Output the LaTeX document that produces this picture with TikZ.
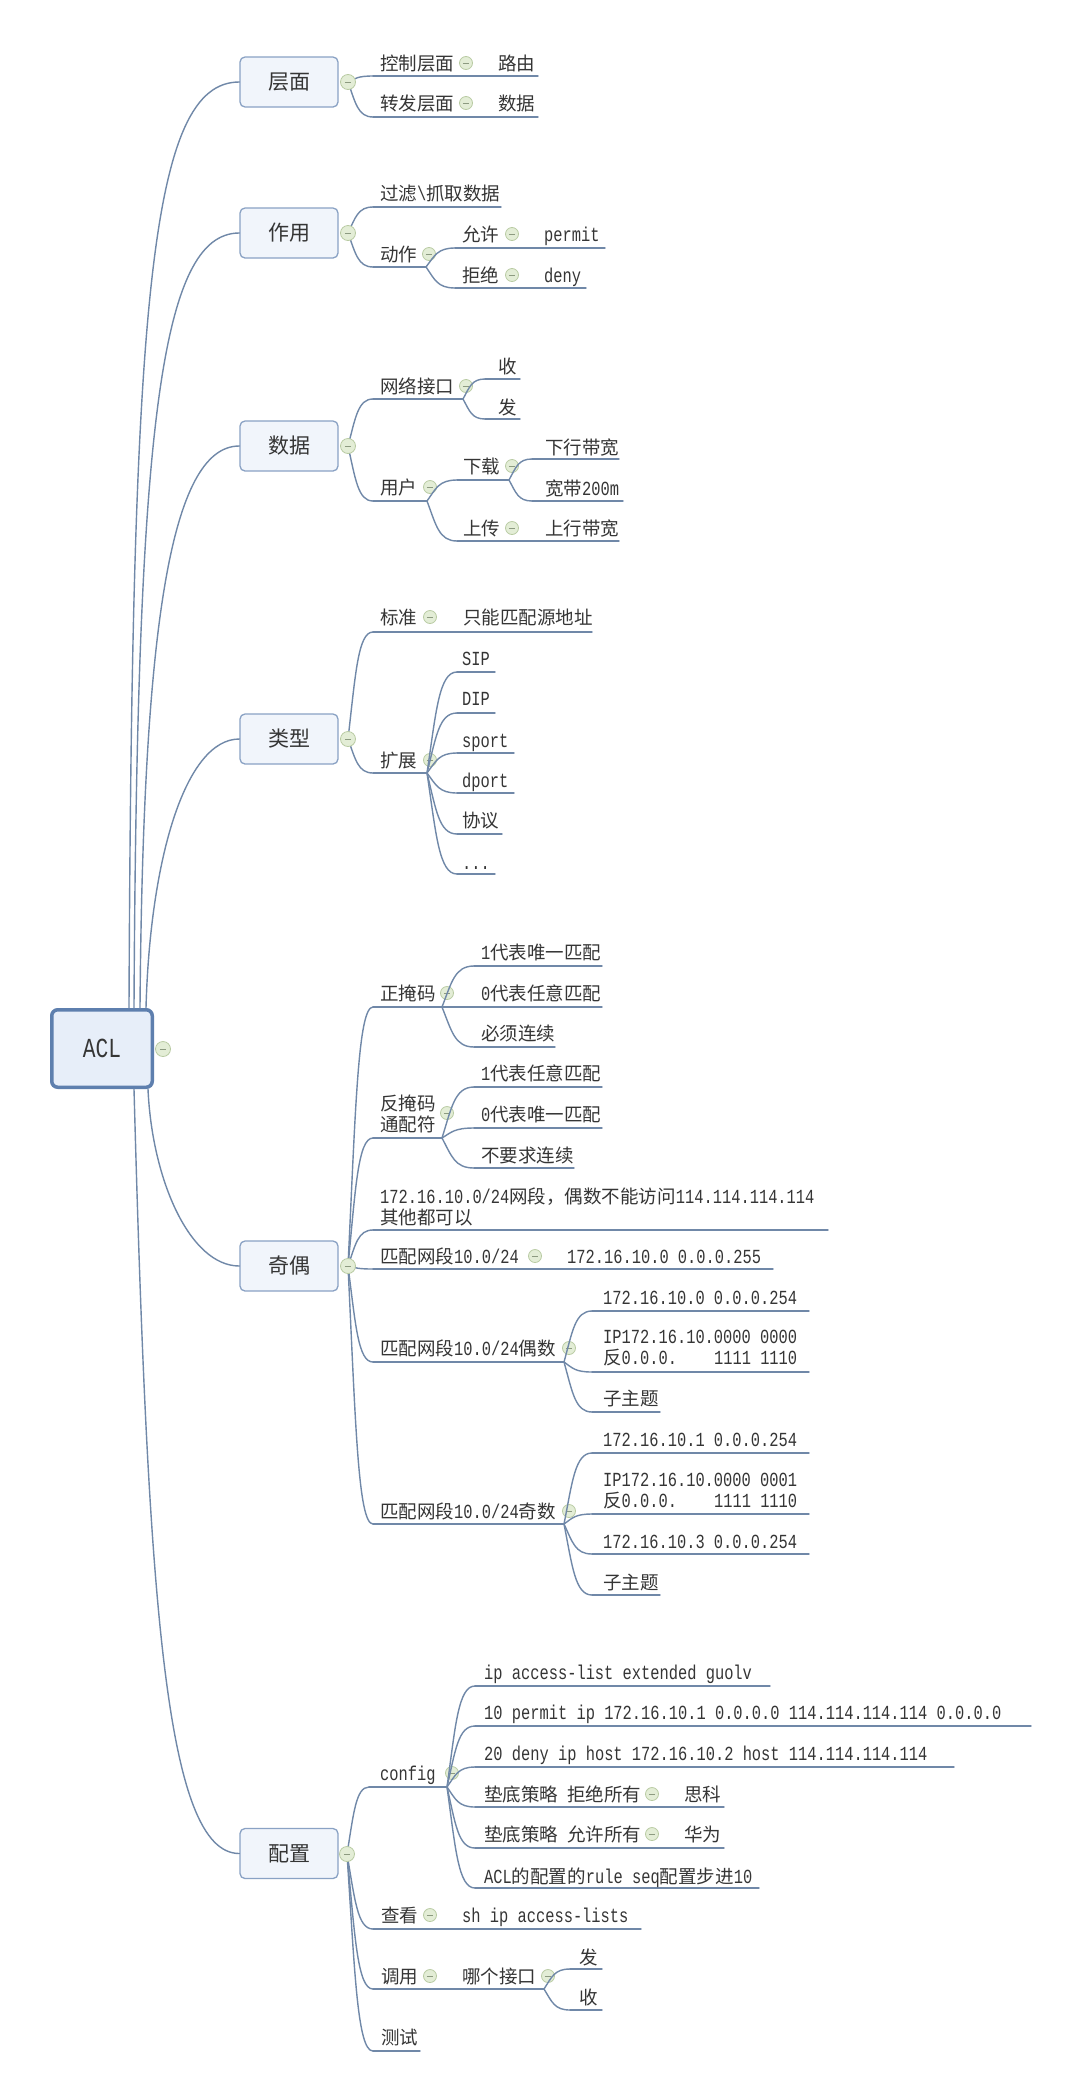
\documentclass[tikz,border=0pt]{standalone}
\usepackage{fontspec}
\setmainfont{Liberation Mono}[FakeStretch=0.77,Scale=1.08]
\newfontfamily\zh{Noto Sans CJK SC}
\usetikzlibrary{calc}
\definecolor{lnc}{HTML}{7088A8}
\definecolor{txc}{HTML}{353535}
\definecolor{bxb}{HTML}{8AA2C4}
\definecolor{bxf}{HTML}{F1F5FB}
\definecolor{aclb}{HTML}{5E7FAE}
\definecolor{aclf}{HTML}{E7EEF9}
\definecolor{tgf}{HTML}{E3EDD6}
\definecolor{tgb}{HTML}{B9CBA3}
\definecolor{tgd}{HTML}{8C9A80}
\newcommand\lf{\fontsize{18.5}{21}\selectfont\spaceskip=9.25pt\relax}
\newcommand\boxfont{\fontsize{21}{24}\selectfont}
\newcommand\aclfont{\fontsize{25.5}{28}\selectfont}
\tikzset{
 ln/.style={draw=lnc, line width=1.4pt, line cap=round},
 txt/.style={anchor=west, inner sep=0pt, text=txc, font=\lf, text height=15pt, text depth=1pt},
 tg/.style={circle, draw=tgb, fill=tgf, minimum size=13pt, inner sep=0pt, line width=0.8pt,
   path picture={\draw[tgd, line width=0.9pt] ([xshift=-3.2pt]path picture bounding box.center) -- ([xshift=3.2pt]path picture bounding box.center);}},
 tgbig/.style={tg, minimum size=15pt},
 box/.style={draw=bxb, fill=bxf, rounded corners=5pt, line width=1.3pt, minimum width=98pt, minimum height=50pt, inner sep=0pt, text=txc, font=\boxfont},
}
\newcommand\brc[2]{\draw[ln] let \p1=(#1), \p2=(#2) in (\p1) .. controls ({\x1+0.3*(\x2-\x1)},{\y1+0.6*(\y2-\y1)}) and ({\x1+0.4*(\x2-\x1)},\y2) .. (\p2);}
\newcommand\ulin[4]{\coordinate (#1s) at (#2,#4); \coordinate (#1e) at (#3,#4); \draw[ln] (#1s) -- (#1e);}
\newcommand\lbl[4]{\node[txt] (#1) at (#2,#3) {#4};}
\newcommand\tgl[3]{\node[tg] (#1) at (#2,#3) {};}
\begin{document}
\begin{tikzpicture}[x=1pt,y=-1pt]
\fill[white] (0,0) rectangle (1080,2099);
\useasboundingbox (0,0) rectangle (1080,2099);

% root
\node[draw=aclb, fill=aclf, rounded corners=6pt, line width=3.5pt, minimum width=100.5pt, minimum height=77.5pt, inner sep=0pt, font=\aclfont, text=txc] (acl) at (102,1048.5) {ACL};
\coordinate (m1) at (129,1008);
\coordinate (m2) at (134,1008);
\coordinate (m3) at (140,1008);
\coordinate (m4) at (146,1008);
\coordinate (m5) at (148,1089);
\coordinate (m6) at (134,1089);

% main boxes
\node[box] (b1) at (289,82) {\zh 层面};
\node[box] (b2) at (289,233) {\zh 作用};
\node[box] (b3) at (289,446) {\zh 数据};
\node[box] (b4) at (289,739) {\zh 类型};
\node[box] (b5) at (289,1266) {\zh 奇偶};
\node[box] (b6) at (289,1853.5) {\zh 配置};

\draw[ln] (m1) .. controls (132,300) and (150,82) .. (b1.west);
\draw[ln] (m2) .. controls (137,430) and (160,233) .. (b2.west);
\draw[ln] (m3) .. controls (143,630) and (170,446) .. (b3.west);
\draw[ln] (m4) .. controls (150,860) and (185,739) .. (b4.west);
\draw[ln] (m5) .. controls (152,1180) and (190,1266) .. (b5.west);
\draw[ln] (m6) .. controls (148,1600) and (165,1853.5) .. (b6.west);

\coordinate (k1) at (348,82);
\coordinate (k2) at (348,233);
\coordinate (k3) at (348,446);
\coordinate (k4) at (348,739);
\coordinate (k5) at (348,1266);
\coordinate (k6) at (347,1854);

% ---- 层面
\ulin{u11}{373}{538}{76} \brc{k1}{u11s}
\lbl{t11}{380}{63}{\zh 控制层面} \tgl{g11}{466}{63} \lbl{t111}{498}{63}{\zh 路由}
\ulin{u12}{373}{538}{117} \brc{k1}{u12s}
\lbl{t12}{380}{103}{\zh 转发层面} \tgl{g12}{466}{103} \lbl{t121}{498}{103}{\zh 数据}

% ---- 作用
\ulin{u21}{373}{501}{207} \brc{k2}{u21s}
\lbl{t21}{380}{193}{{\zh 过滤}\textbackslash{\zh 抓取数据}}
\ulin{u22}{373}{426}{267} \brc{k2}{u22s}
\lbl{t22}{380}{254}{\zh 动作} \tgl{g22}{429}{254}
\ulin{u221}{455}{605}{248} \brc{u22e}{u221s}
\lbl{t221}{462}{234}{\zh 允许} \tgl{g221}{512}{234} \lbl{t2211}{544}{234}{permit}
\ulin{u222}{455}{586}{288} \brc{u22e}{u222s}
\lbl{t222}{462}{275}{\zh 拒绝} \tgl{g222}{512}{275} \lbl{t2221}{544}{275}{deny}

% ---- 数据
\ulin{u31}{373}{463}{399} \brc{k3}{u31s}
\lbl{t31}{380}{386}{\zh 网络接口} \tgl{g31}{466}{386}
\ulin{u311}{485}{520}{379} \brc{u31e}{u311s} \lbl{t311}{498}{366}{\zh 收}
\ulin{u312}{485}{520}{419} \brc{u31e}{u312s} \lbl{t312}{498}{407}{\zh 发}
\ulin{u32}{373}{427}{501} \brc{k3}{u32s}
\lbl{t32}{380}{487}{\zh 用户} \tgl{g32}{430}{487}
\ulin{u321}{457}{509}{480} \brc{u32e}{u321s}
\lbl{t321}{463}{466}{\zh 下载} \tgl{g321}{512}{466}
\ulin{u3211}{532}{619}{459} \brc{u321e}{u3211s} \lbl{t3211}{545}{447}{\zh 下行带宽}
\ulin{u3212}{532}{623}{501} \brc{u321e}{u3212s} \lbl{t3212}{545}{488}{{\zh 宽带}200m}
\ulin{u322}{457}{619}{541} \brc{u32e}{u322s}
\lbl{t322}{463}{528}{\zh 上传} \tgl{g322}{512}{528} \lbl{t3221}{545}{528}{\zh 上行带宽}

% ---- 类型
\ulin{u41}{373}{592}{632} \brc{k4}{u41s}
\lbl{t41}{380}{617}{\zh 标准} \tgl{g41}{430}{617} \lbl{t411}{463}{617}{\zh 只能匹配源地址}
\ulin{u42}{373}{427}{773} \brc{k4}{u42s}
\lbl{t42}{380}{760}{\zh 扩展} \tgl{g42}{430}{760}
\ulin{u421}{457}{495}{672} \brc{u42e}{u421s} \lbl{t421}{462}{658}{SIP}
\ulin{u422}{457}{495}{713} \brc{u42e}{u422s} \lbl{t422}{462}{698}{DIP}
\ulin{u423}{457}{514}{753} \brc{u42e}{u423s} \lbl{t423}{462}{740}{sport}
\ulin{u424}{457}{514}{793} \brc{u42e}{u424s} \lbl{t424}{462}{780}{dport}
\ulin{u425}{457}{502}{834} \brc{u42e}{u425s} \lbl{t425}{462}{820}{\zh 协议}
\ulin{u426}{457}{495}{874} \brc{u42e}{u426s} \lbl{t426}{462}{862}{...}

% ---- 奇偶
\ulin{u51}{373}{442}{1007} \brc{k5}{u51s}
\lbl{t51}{380}{993}{\zh 正掩码} \tgl{g51}{447}{993}
\ulin{u511}{474}{602}{966} \brc{u51e}{u511s} \lbl{t511}{481}{952}{1{\zh 代表唯一匹配}}
\ulin{u512}{474}{602}{1007} \brc{u51e}{u512s} \lbl{t512}{481}{993}{0{\zh 代表任意匹配}}
\ulin{u513}{474}{555}{1047} \brc{u51e}{u513s} \lbl{t513}{481}{1033}{\zh 必须连续}
\ulin{u52}{373}{442}{1138} \brc{k5}{u52s}
\lbl{t52}{380}{1103}{\zh 反掩码} \lbl{t52b}{380}{1124}{\zh 通配符} \tgl{g52}{447}{1113}
\ulin{u521}{474}{602}{1087} \brc{u52e}{u521s} \lbl{t521}{481}{1073}{1{\zh 代表任意匹配}}
\ulin{u522}{474}{602}{1128} \brc{u52e}{u522s} \lbl{t522}{481}{1114}{0{\zh 代表唯一匹配}}
\ulin{u523}{474}{574}{1168} \brc{u52e}{u523s} \lbl{t523}{481}{1155}{\zh 不要求连续}
\ulin{u53}{373}{828}{1230} \brc{k5}{u53s}
\lbl{t53}{380}{1196}{172.16.10.0/24{\zh 网段，偶数不能访问}114.114.114.114}
\lbl{t53b}{380}{1217}{\zh 其他都可以}
\ulin{u54}{373}{773}{1269} \brc{k5}{u54s}
\lbl{t54}{380}{1256}{{\zh 匹配网段}10.0/24} \tgl{g54}{535}{1256} \lbl{t541}{567}{1256}{172.16.10.0 0.0.0.255}
\ulin{u55}{373}{564}{1362} \brc{k5}{u55s}
\lbl{t55}{380}{1348}{{\zh 匹配网段}10.0/24{\zh 偶数}} \tgl{g55}{569}{1348}
\ulin{u551}{592}{809}{1311} \brc{u55e}{u551s} \lbl{t551}{603}{1297}{172.16.10.0 0.0.0.254}
\ulin{u552}{592}{809}{1372} \brc{u55e}{u552s}
\lbl{t552}{603}{1336}{IP172.16.10.0000 0000} \lbl{t552b}{603}{1357}{{\zh 反}0.0.0.\hspace{37pt}1111 1110}
\ulin{u553}{592}{660}{1412} \brc{u55e}{u553s} \lbl{t553}{603}{1398}{\zh 子主题}
\ulin{u56}{373}{564}{1524} \brc{k5}{u56s}
\lbl{t56}{380}{1511}{{\zh 匹配网段}10.0/24{\zh 奇数}} \tgl{g56}{569}{1511}
\ulin{u561}{592}{809}{1453} \brc{u56e}{u561s} \lbl{t561}{603}{1439}{172.16.10.1 0.0.0.254}
\ulin{u562}{592}{809}{1514} \brc{u56e}{u562s}
\lbl{t562}{603}{1479}{IP172.16.10.0000 0001} \lbl{t562b}{603}{1500}{{\zh 反}0.0.0.\hspace{37pt}1111 1110}
\ulin{u563}{592}{809}{1554} \brc{u56e}{u563s} \lbl{t563}{603}{1541}{172.16.10.3 0.0.0.254}
\ulin{u564}{592}{660}{1595} \brc{u56e}{u564s} \lbl{t564}{603}{1582}{\zh 子主题}

% ---- 配置
\ulin{u61}{369}{447}{1787} \brc{k6}{u61s}
\lbl{t61}{380}{1773}{config} \tgl{g61}{452}{1773}
\ulin{u611}{475}{770}{1686} \brc{u61e}{u611s} \lbl{t611}{484}{1672}{ip access-list extended guolv}
\ulin{u612}{475}{1031}{1726} \brc{u61e}{u612s} \lbl{t612}{484}{1712}{10 permit ip 172.16.10.1 0.0.0.0 114.114.114.114 0.0.0.0}
\ulin{u613}{475}{954}{1767} \brc{u61e}{u613s} \lbl{t613}{484}{1753}{20 deny ip host 172.16.10.2 host 114.114.114.114}
\ulin{u614}{475}{724}{1807} \brc{u61e}{u614s}
\lbl{t614}{484}{1794}{\zh 垫底策略 拒绝所有} \tgl{g614}{652}{1794} \lbl{t6141}{684}{1794}{\zh 思科}
\ulin{u615}{475}{724}{1848} \brc{u61e}{u615s}
\lbl{t615}{484}{1834}{\zh 垫底策略 允许所有} \tgl{g615}{652}{1834} \lbl{t6151}{684}{1834}{\zh 华为}
\ulin{u616}{475}{759}{1888} \brc{u61e}{u616s} \lbl{t616}{484}{1876}{ACL{\zh 的配置的}rule seq{\zh 配置步进}10}
\ulin{u62}{373}{641}{1929} \brc{k6}{u62s}
\lbl{t62}{381}{1915}{\zh 查看} \tgl{g62}{430}{1915} \lbl{t621}{462}{1915}{sh ip access-lists}
\ulin{u63}{373}{544}{1989} \brc{k6}{u63s}
\lbl{t63}{381}{1976}{\zh 调用} \tgl{g63}{430}{1976} \lbl{t631}{462}{1976}{\zh 哪个接口} \tgl{g631}{548}{1976}
\ulin{u6311}{570}{602}{1969} \brc{u63e}{u6311s} \lbl{t6311}{579}{1957}{\zh 发}
\ulin{u6312}{570}{602}{2010} \brc{u63e}{u6312s} \lbl{t6312}{579}{1997}{\zh 收}
\ulin{u64}{373}{420}{2051} \brc{k6}{u64s} \lbl{t64}{381}{2037}{\zh 测试}

% box toggles on top
\node[tgbig] (kn1) at (k1) {};
\node[tgbig] (kn2) at (k2) {};
\node[tgbig] (kn3) at (k3) {};
\node[tgbig] (kn4) at (k4) {};
\node[tgbig] (kn5) at (k5) {};
\node[tgbig] (kn6) at (k6) {};
\node[tgbig] (kn0) at (163,1049) {};
\end{tikzpicture}
\end{document}
